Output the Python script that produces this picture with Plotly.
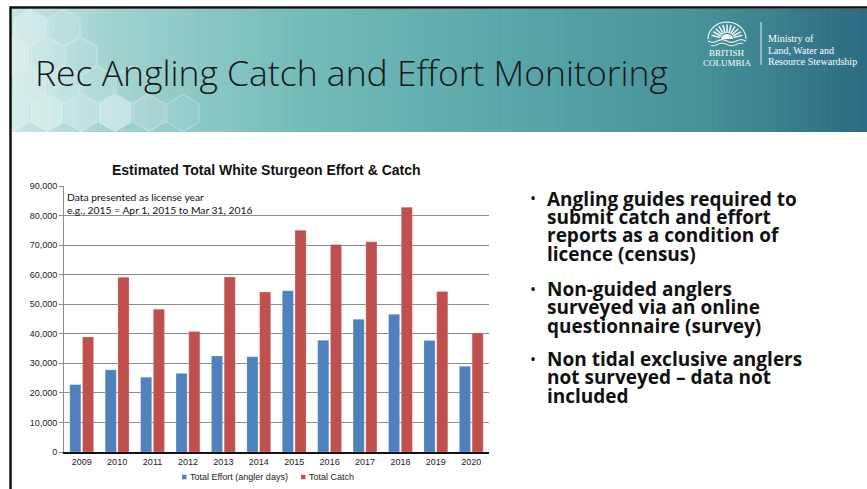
import math
import plotly.graph_objects as go

W, H = 867, 489

# ---------------- data ----------------
years = ['2009', '2010', '2011', '2012', '2013', '2014', '2015', '2016', '2017', '2018', '2019', '2020']
effort = [22800, 27800, 25300, 26600, 32500, 32200, 54600, 37800, 44900, 46600, 37700, 29000]
catch = [38900, 59100, 48300, 40800, 59200, 54100, 75000, 70200, 71100, 82800, 54300, 40300]
series_names = ['Total Effort (angler days)', 'Total Catch']
series_colors = ['#4F81BD', '#C0504D']
y_ticks = [0, 10000, 20000, 30000, 40000, 50000, 60000, 70000, 80000, 90000]

chart_title = 'Estimated Total White Sturgeon Effort & Catch'
note_lines = ['Data presented as license year', 'e.g., 2015 = Apr 1, 2015 to Mar 31, 2016']
slide_title = 'Rec Angling Catch and Effort Monitoring'
bullets = [
    ['Angling guides required to', 'submit catch and effort', 'reports as a condition of', 'licence (census)'],
    ['Non-guided anglers', 'surveyed via an online', 'questionnaire (survey)'],
    ['Non tidal exclusive anglers', 'not surveyed \u2013 data not', 'included'],
]
ministry_lines = ['Ministry of', 'Land, Water and', 'Resource Stewardship']
province_lines = ['BRITISH', 'COLUMBIA']


def X(px):
    return px / W


def Y(py):
    return 1 - py / H


fig = go.Figure()
for name, vals, col in zip(series_names, [effort, catch], series_colors):
    fig.add_trace(go.Bar(x=years, y=vals, name=name, marker=dict(color=col,
                         line=dict(color='rgba(255,255,255,0.35)', width=0.6)),
                         showlegend=False))

shapes = []
annotations = []

# ---------- header gradient band ----------
stops = [(11, (0xc6, 0xe6, 0xe4)), (120, (0x9e, 0xd2, 0xcf)), (300, (0x74, 0xbc, 0xb9)),
         (500, (0x5a, 0xa8, 0xaa)), (700, (0x47, 0x92, 0x99)), (867, (0x2c, 0x6a, 0x82))]


def col_at(px):
    for (x0, c0), (x1, c1) in zip(stops[:-1], stops[1:]):
        if x0 <= px <= x1:
            t = (px - x0) / (x1 - x0)
            c = [round(a + (b - a) * t) for a, b in zip(c0, c1)]
            return 'rgb(%d,%d,%d)' % tuple(c)
    return 'rgb(%d,%d,%d)' % stops[-1][1]


n = 120
x_start, x_end = 11, 867
step = (x_end - x_start) / n
for i in range(n):
    a = x_start + i * step
    b = a + step + 0.6
    shapes.append(dict(type='rect', xref='paper', yref='paper', x0=X(a), x1=X(min(b, W)),
                       y0=Y(132), y1=Y(9), fillcolor=col_at(a + step / 2), line=dict(width=0),
                       layer='above'))


def hex_path(cx, cy, r):
    pts = []
    for k in range(6):
        ang = math.radians(90 + 60 * k)
        pts.append((cx + r * math.cos(ang), cy - r * math.sin(ang)))
    return 'M ' + ' L '.join('%f,%f' % (X(px), Y(py)) for px, py in pts) + ' Z'


hexes = [
    (13, 113, 0.30), (47, 113, 0.38), (81, 113, 0.28), (115, 113, 0.42), (149, 113, 0.18), (183, 113, 0.07),
    (30, 84.5, 0.32), (64, 84.5, 0.22), (98, 84.5, 0.13), (132, 84.5, 0.06),
    (13, 56, 0.38), (47, 56, 0.20), (81, 56, 0.09),
    (30, 27.5, 0.28), (64, 27.5, 0.13),
]
for cx, cy, a in hexes:
    shapes.append(dict(type='path', xref='paper', yref='paper', path=hex_path(cx, cy, 18.5),
                       fillcolor='rgba(255,255,255,%.2f)' % a,
                       line=dict(color='rgba(255,255,255,0.30)', width=1.2), layer='above'))

# borders
shapes.append(dict(type='line', xref='paper', yref='paper', x0=X(10), x1=X(867), y0=Y(7.5), y1=Y(7.5),
                   line=dict(color='#111', width=2.5), layer='above'))
shapes.append(dict(type='line', xref='paper', yref='paper', x0=X(10.5), x1=X(10.5), y0=Y(6.5), y1=Y(489),
                   line=dict(color='#111', width=2.5), layer='above'))

# logo: sun emblem
cxs, cys = 727, 39
arc = []
for k in range(0, 181, 10):
    ang = math.radians(k)
    arc.append((cxs + 19 * math.cos(ang), cys - 17 * math.sin(ang)))
shapes.append(dict(type='path', xref='paper', yref='paper',
                   path='M ' + ' L '.join('%f,%f' % (X(px), Y(py)) for px, py in arc),
                   line=dict(color='rgba(255,255,255,0.9)', width=1.2), layer='above'))
for k in range(15, 170, 15):
    ang = math.radians(k)
    shapes.append(dict(type='line', xref='paper', yref='paper',
                       x0=X(cxs + 7 * math.cos(ang)), y0=Y(cys - 6 * math.sin(ang)),
                       x1=X(cxs + 16 * math.cos(ang)), y1=Y(cys - 14.5 * math.sin(ang)),
                       line=dict(color='rgba(255,255,255,0.9)', width=1.6), layer='above'))
half = []
for k in range(0, 181, 15):
    ang = math.radians(k)
    half.append((cxs + 6 * math.cos(ang), cys - 5 * math.sin(ang)))
shapes.append(dict(type='path', xref='paper', yref='paper',
                   path='M ' + ' L '.join('%f,%f' % (X(px), Y(py)) for px, py in half) + ' Z',
                   fillcolor='white', line=dict(width=0), layer='above'))
wave = []
for i in range(0, 39):
    px = 708 + i
    wave.append((px, cys + 2 + 1.3 * math.sin(i / 3.0)))
shapes.append(dict(type='path', xref='paper', yref='paper',
                   path='M ' + ' L '.join('%f,%f' % (X(px), Y(py)) for px, py in wave),
                   line=dict(color='rgba(255,255,255,0.9)', width=1.2), layer='above'))
wave2 = [(px, py + 3.5) for px, py in wave[3:-3]]
shapes.append(dict(type='path', xref='paper', yref='paper',
                   path='M ' + ' L '.join('%f,%f' % (X(px), Y(py)) for px, py in wave2),
                   line=dict(color='rgba(255,255,255,0.9)', width=1.0), layer='above'))
shapes.append(dict(type='line', xref='paper', yref='paper', x0=X(761), x1=X(761), y0=Y(22), y1=Y(65),
                   line=dict(color='rgba(255,255,255,0.85)', width=1), layer='above'))

for txt, py in zip(province_lines, [53, 62.5]):
    annotations.append(dict(text=txt, x=X(727), y=Y(py), xref='paper', yref='paper', xanchor='center',
                            yanchor='middle', showarrow=False,
                            font=dict(family='Liberation Serif', size=9, color='white')))
for txt, py in zip(ministry_lines, [39, 50, 61]):
    annotations.append(dict(text=txt, x=X(766), y=Y(py), xref='paper', yref='paper', xanchor='left',
                            yanchor='middle', showarrow=False,
                            font=dict(family='Liberation Serif', size=10, color='white')))

# slide title
annotations.append(dict(text=slide_title, x=X(33), y=Y(72.5), xref='paper', yref='paper', xanchor='left',
                        yanchor='middle', showarrow=False,
                        font=dict(family='Open Sans', size=35.5, color='#161616', weight=300)))

# chart title
annotations.append(dict(text='<b>' + chart_title + '</b>', x=X(266), y=Y(170), xref='paper', yref='paper',
                        xanchor='center', yanchor='middle', showarrow=False,
                        font=dict(family='Liberation Sans', size=14, color='#111')))

# note inside chart
for txt, py in zip(note_lines, [197.5, 209.5]):
    annotations.append(dict(text=txt, x=X(64.5), y=Y(py), xref='paper', yref='paper', xanchor='left',
                            yanchor='middle', showarrow=False,
                            font=dict(family='Lato', size=10.3, color='#111')))

# manual legend
leg = [(182, 189, series_names[0], series_colors[0]), (301, 308, series_names[1], series_colors[1])]
for sx, tx, name, col in leg:
    shapes.append(dict(type='rect', xref='paper', yref='paper', x0=X(sx), x1=X(sx + 4.5),
                       y0=Y(479.3), y1=Y(474.8), fillcolor=col, line=dict(width=0)))
    annotations.append(dict(text=name, x=X(tx - 1), y=Y(477), xref='paper', yref='paper', xanchor='left',
                            yanchor='middle', showarrow=False,
                            font=dict(family='Liberation Sans', size=9, color='#222')))

# bullets
sp = 18.4
bullet_first = [198.5, 289, 359]
for lines, y0 in zip(bullets, bullet_first):
    annotations.append(dict(text='\u2022', x=X(533), y=Y(y0 - 0.5), xref='paper', yref='paper',
                            xanchor='center', yanchor='middle', showarrow=False,
                            font=dict(family='Open Sans', size=16, color='#111')))
    for j, txt in enumerate(lines):
        annotations.append(dict(text=txt, x=X(545), y=Y(y0 + j * sp), xref='paper', yref='paper',
                                xanchor='left', yanchor='middle', showarrow=False,
                                font=dict(family='Open Sans', size=19, color='#111', weight='bold')))

fig.update_layout(
    width=W, height=H, margin=dict(l=0, r=0, t=0, b=0),
    paper_bgcolor='white', plot_bgcolor='white',
    barmode='group', bargap=0.28, bargroupgap=0.13,
    shapes=shapes, annotations=annotations,
    xaxis=dict(domain=[X(64), X(489)], type='category', showline=True, linecolor='#111', linewidth=1.5,
               ticks='', tickfont=dict(family='Liberation Sans', size=9, color='#222'), automargin=False,
               showgrid=False, fixedrange=True),
    yaxis=dict(domain=[Y(452), Y(186)], range=[0, 90000], tickvals=y_ticks, tickformat=',',
               showgrid=True, gridcolor='#8c8c8c', gridwidth=1, showline=True, linecolor='#8c8c8c',
               ticks='outside', ticklen=4, tickcolor='#8c8c8c', zeroline=False,
               tickfont=dict(family='Liberation Sans', size=9, color='#222'), automargin=False,
               fixedrange=True),
)

fig.write_html('out.html', config={'displayModeBar': False},
               post_script="document.body.style.margin='0px';document.body.style.padding='0px';"
                           "document.body.style.overflow='hidden';")
